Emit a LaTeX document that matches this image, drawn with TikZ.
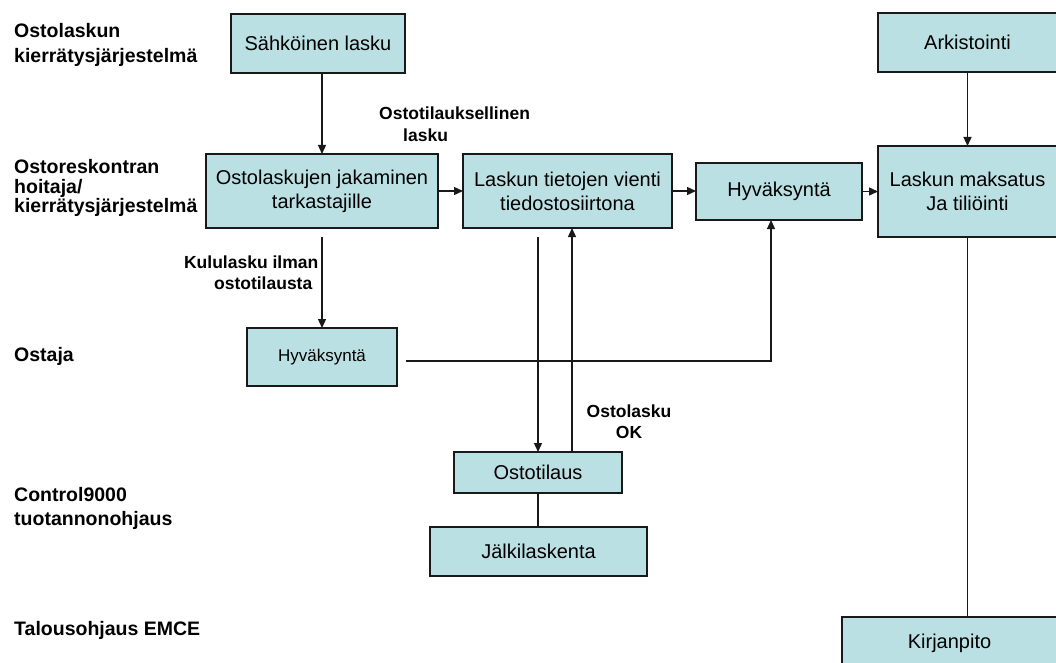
\documentclass[tikz,border=0pt]{standalone}
\usepackage{fontspec}
\setmainfont{Liberation Sans}
\usetikzlibrary{arrows.meta,calc}
\definecolor{boxfill}{RGB}{187,224,227}
\definecolor{boxline}{RGB}{25,25,25}
\begin{document}
\begin{tikzpicture}[x=1pt,y=-1pt,
  box/.style={draw=boxline,fill=boxfill,line width=1.3pt,inner sep=0pt,outer sep=0pt,
    align=center,font=\fontsize{20}{24}\selectfont},
  smallbox/.style={box,font=\fontsize{17}{20}\selectfont},
  lane/.style={inner sep=0pt,align=left,font=\bfseries\fontsize{19.5}{24}\selectfont},
  note/.style={inner sep=0pt,font=\bfseries\fontsize{17.5}{21}\selectfont},
  flow/.style={draw=boxline,line width=1.3pt,-{Triangle[length=9pt,width=8pt]}},
  link/.style={draw=boxline,line width=1.3pt}]
\useasboundingbox (0,0) rectangle (1056,663);
\clip (0,0) rectangle (1056,663);

% swimlane titles
\node[lane,anchor=west,font=\bfseries\fontsize{19.5}{25}\selectfont] (l1) at (14,45.2)
  {Ostolaskun\\kierrätysjärjestelmä};
\node[lane,anchor=west,font=\bfseries\fontsize{19.5}{19.8}\selectfont] (l2) at (14,188)
  {Ostoreskontran\\hoitaja/\\kierrätysjärjestelmä};
\node[lane,anchor=base west] (l3) at (14,361) {Ostaja};
\node[lane,anchor=west,font=\bfseries\fontsize{19.5}{24.3}\selectfont] (l4) at (14,508.8)
  {Control9000\\tuotannonohjaus};
\node[lane,anchor=base west] (l5) at (14,635) {Talousohjaus EMCE};

% process boxes
\node[box,minimum width=174pt,minimum height=59pt] (sahko) at (318,43.5) {Sähköinen lasku};
\node[box,minimum width=232pt,minimum height=74pt] (jak) at (322,191) {Ostolaskujen jakaminen\\tarkastajille};
\node[box,minimum width=209pt,minimum height=74pt] (vienti) at (567.5,191) {Laskun tietojen vienti\\tiedostosiirtona};
\node[box,minimum width=166pt,minimum height=57pt] (hyv1) at (779,191.5) {Hyväksyntä};
\node[box,minimum width=179pt,minimum height=59pt] (ark) at (967.5,42.5) {Arkistointi};
\node[box,minimum width=179pt,minimum height=91pt] (maks) at (967.5,191.5) {Laskun maksatus\\Ja tiliöinti};
\node[smallbox,minimum width=150pt,minimum height=58pt] (hyv2) at (322,357) {Hyväksyntä};
\node[box,minimum width=168pt,minimum height=41pt] (tilaus) at (538,472.5) {Ostotilaus};
\node[box,minimum width=217pt,minimum height=49pt] (jalki) at (538.5,551.5) {Jälkilaskenta};
\node[box,minimum width=215pt,minimum height=52pt] (kirja) at (949.5,643) {Kirjanpito};

% connector labels
\node[note,anchor=west,align=left,font=\bfseries\fontsize{17.5}{22}\selectfont] (n1) at (379,124)
  {Ostotilauksellinen\\\hspace*{24pt}lasku};
\node[note,anchor=east,align=right] (n2) at (318.5,272.4)
  {Kululasku ilman\\ostotilausta\hspace*{6pt}};
\node[note,align=center] (n3) at (629,421.4) {Ostolasku\\OK};

% free ends of connectors
\coordinate (jout) at (322,237);
\coordinate (vout) at (538,237);
\coordinate (hout) at (406,361);
\coordinate (hturn) at (771,361);
\coordinate (tup) at ($(tilaus.north)+(34,0)$);

% connectors
\draw[flow] (sahko.south -| jak.north) -- (jak.north);
\draw[flow] (jak.east) -- (vienti.west);
\draw[flow] (vienti.east) -- (vienti.east -| hyv1.west);
\draw[flow] (hyv1.east) -- (hyv1.east -| maks.west);
\draw[flow] (ark.south) -- (maks.north);
\draw[flow] (jout) -- (hyv2.north);
\draw[flow] (hout) -- (hturn) -- (hturn |- hyv1.south);
\draw[flow] (vout) -- (tilaus.north);
\draw[flow] (tup) -- (tup |- vienti.south);
\draw[link] (tilaus.south) -- (tilaus.south |- jalki.north);
\draw[link] (maks.south) -- (maks.south |- kirja.north);
\end{tikzpicture}
\end{document}
